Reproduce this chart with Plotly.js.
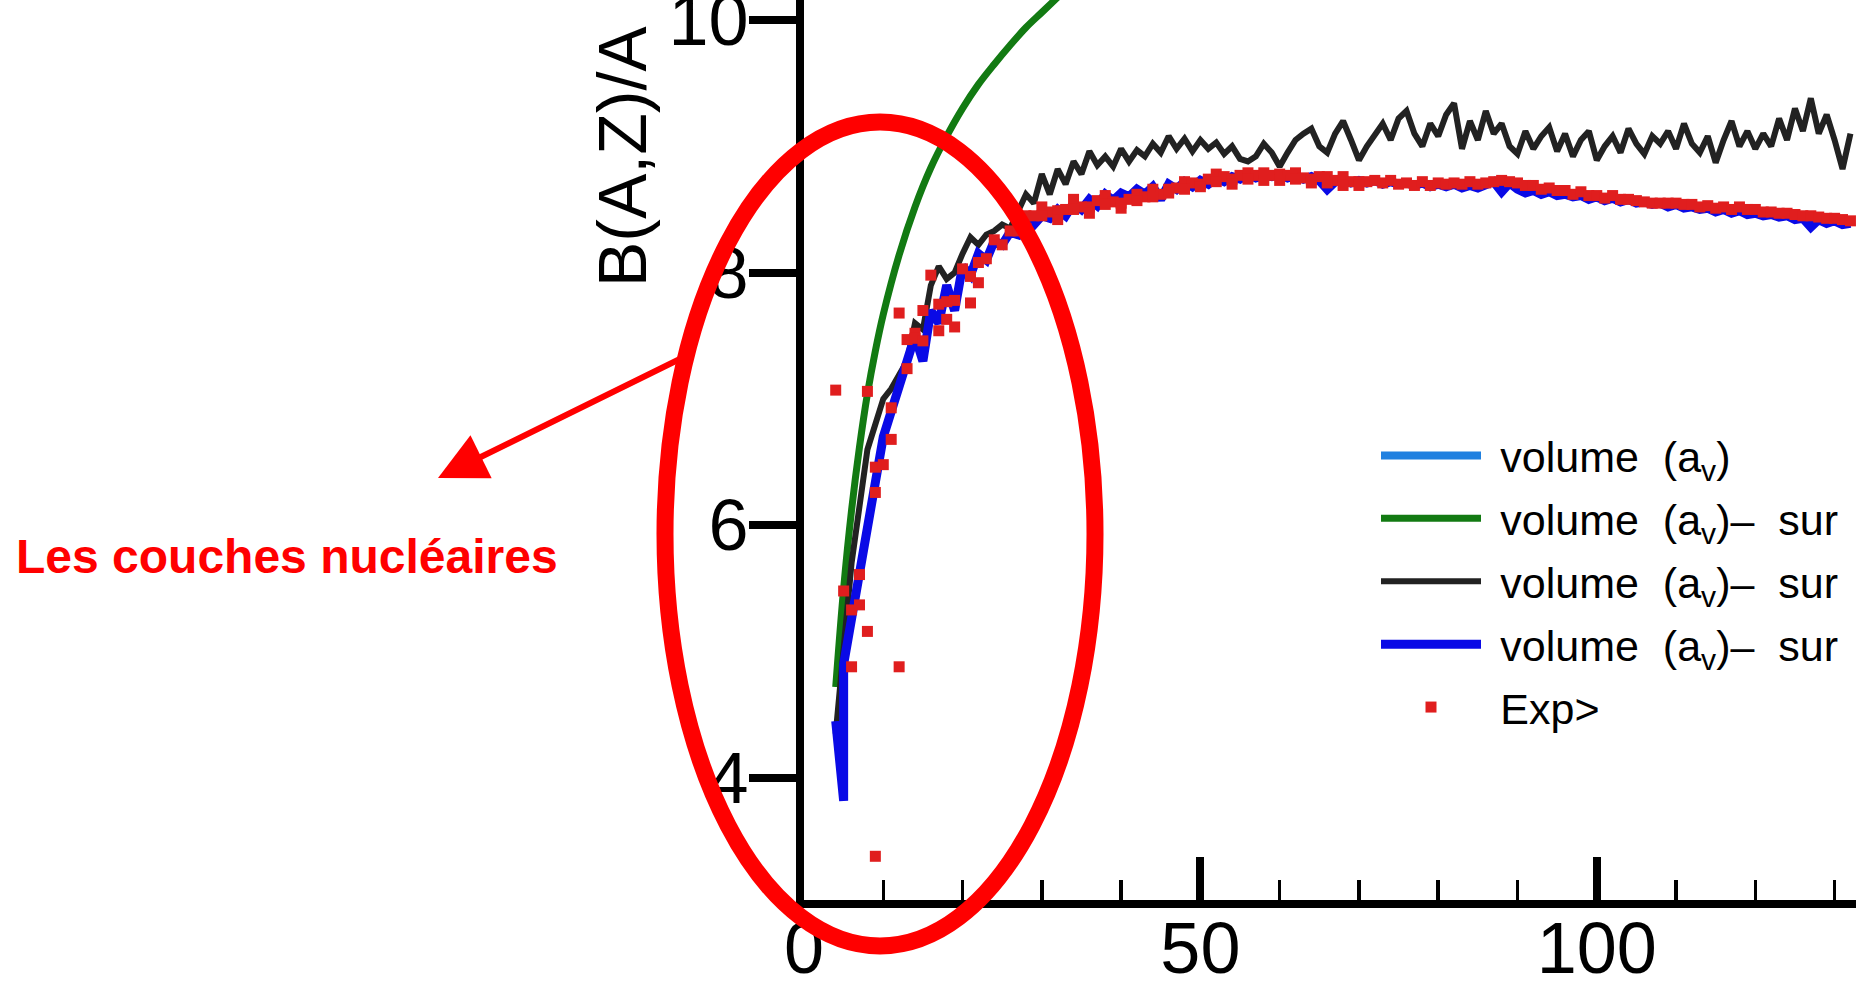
<!DOCTYPE html>
<html>
<head>
<meta charset="utf-8">
<script src="https://cdn.plot.ly/plotly-3.0.1.min.js"></script>
<style>
  html, body { margin: 0; padding: 0; background: #ffffff; overflow: hidden; }
  #chart { width: 1856px; height: 987px; }
</style>
</head>
<body>
<div id="chart"></div>
<script>
// ---- Data ----
const seriesNames = [
  '\u2004volume  (a<sub>v</sub>)',
  '\u2004volume  (a<sub>v</sub>)–  sur',
  '\u2004volume  (a<sub>v</sub>)–  sur',
  '\u2004volume  (a<sub>v</sub>)–  sur',
  '\u2004Exp&gt;'
];

// volume term only (constant, above the visible range)
const volA = [0, 132];
const volB = [15.56, 15.56];

// volume - surface (green)
const surfA = [4, 5, 6, 7, 8, 9, 10, 12, 14, 16, 18, 20, 22, 24, 26, 28, 30, 32];
const surfB = [4.72, 5.50, 6.12, 6.62, 7.04, 7.38, 7.67, 8.14, 8.52, 8.83, 9.08, 9.30, 9.49, 9.65, 9.80, 9.94, 10.06, 10.18];

// volume - surface - coulomb (black)
const coulA = [4, 5, 6, 7, 8, 9, 10, 11, 12, 13, 14, 15, 16, 17, 18, 19, 20, 21, 22, 23, 24, 25, 26, 27, 28, 29, 30,
  31, 32, 33, 34, 35, 36, 37, 38, 39, 40, 41, 42, 43, 44, 45, 46, 47, 48, 49, 50,
  51, 52, 53, 54, 55, 56, 57, 58, 59, 60, 61, 62, 63, 64, 65, 66, 67, 68, 69, 70,
  71, 72, 73, 74, 75, 76, 77, 78, 79, 80, 81, 82, 83, 84, 85, 86, 87, 88, 89, 90,
  91, 92, 93, 94, 95, 96, 97, 98, 99, 100, 101, 102, 103, 104, 105, 106, 107, 108, 109, 110,
  111, 112, 113, 114, 115, 116, 117, 118, 119, 120, 121, 122, 123, 124, 125, 126, 127, 128, 129, 130, 131, 132];
const coulB = [4.35, 5.05, 5.70, 6.15, 6.60, 6.80, 7.00, 7.08, 7.20, 7.30, 7.60, 7.55, 7.90, 8.05, 7.95, 8.00, 8.15, 8.28, 8.22, 8.30, 8.33, 8.38, 8.35, 8.48, 8.62, 8.55, 8.78,
  8.62, 8.82, 8.70, 8.88, 8.78, 8.96, 8.85, 8.92, 8.84, 8.98, 8.88, 8.97, 8.92, 9.02, 8.95, 9.08, 8.98, 9.06, 8.96, 9.05,
  8.98, 9.03, 8.94, 9.00, 8.90, 8.88, 8.92, 9.02, 8.95, 8.84, 8.95, 9.05, 9.10, 9.14, 9.00, 8.95, 9.10, 9.20, 9.05, 8.89,
  9.00, 9.10, 9.18, 9.05, 9.22, 9.28, 9.10, 9.00, 9.18, 9.08, 9.25, 9.34, 8.98, 9.20, 9.05, 9.28, 9.10, 9.18, 9.00, 8.94,
  9.12, 8.98, 9.08, 9.15, 8.96, 9.10, 8.92, 9.05, 9.12, 8.89, 9.00, 9.08, 8.95, 9.14, 9.02, 8.94, 9.08, 9.02, 9.12, 8.98,
  9.18, 9.02, 8.95, 9.08, 8.87, 9.05, 9.20, 9.00, 9.12, 8.98, 9.10, 9.00, 9.22, 9.05, 9.30, 9.12, 9.38, 9.10, 9.25, 9.05, 8.82, 9.10];

// volume - surface - coulomb - asymmetry (blue)
const asymA = [4, 5, 5, 6, 7, 8, 9, 10, 11, 12, 13, 14, 15, 16, 17, 18, 19, 20, 21, 22, 23, 24, 25, 26, 27, 28, 29, 30,
  31, 32, 33, 34, 35, 36, 37, 38, 39, 40, 41, 42, 43, 44, 45, 46, 47, 48, 49, 50,
  51, 52, 53, 54, 55, 56, 57, 58, 59, 60, 61, 62, 63, 64, 65, 66, 67, 68, 69, 70,
  71, 72, 73, 74, 75, 76, 77, 78, 79, 80, 81, 82, 83, 84, 85, 86, 87, 88, 89, 90,
  91, 92, 93, 94, 95, 96, 97, 98, 99, 100, 101, 102, 103, 104, 105, 106, 107, 108, 109, 110,
  111, 112, 113, 114, 115, 116, 117, 118, 119, 120, 121, 122, 123, 124, 125, 126, 127, 128, 129, 130, 131, 132];
const asymB = [4.45, 3.82, 4.90, 5.25, 5.60, 6.05, 6.40, 6.70, 6.90, 7.10, 7.35, 7.50, 7.30, 7.70, 7.60, 7.90, 7.70, 8.05, 7.98, 8.15, 8.10, 8.25, 8.22, 8.32, 8.30, 8.42, 8.38, 8.45,
  8.43, 8.50, 8.45, 8.55, 8.50, 8.58, 8.53, 8.62, 8.57, 8.63, 8.60, 8.66, 8.62, 8.68, 8.58, 8.70, 8.66, 8.72, 8.68, 8.73,
  8.70, 8.75, 8.72, 8.76, 8.74, 8.78, 8.75, 8.77, 8.76, 8.78, 8.75, 8.77, 8.74, 8.76, 8.73, 8.66, 8.72, 8.74, 8.71, 8.73,
  8.71, 8.73, 8.70, 8.72, 8.70, 8.71, 8.69, 8.71, 8.68, 8.70, 8.68, 8.70, 8.67, 8.69, 8.67, 8.70, 8.72, 8.64, 8.71, 8.66,
  8.63, 8.65, 8.62, 8.64, 8.61, 8.62, 8.60, 8.61, 8.58, 8.60, 8.57, 8.59, 8.56, 8.58, 8.55, 8.56, 8.54, 8.55, 8.52, 8.54,
  8.51, 8.52, 8.50, 8.51, 8.48, 8.50, 8.47, 8.49, 8.46, 8.47, 8.45, 8.46, 8.44, 8.45, 8.42, 8.43, 8.36, 8.42, 8.39, 8.41, 8.38, 8.39];

// experimental values (red squares)
const expA = [4, 5, 6, 6, 7, 7, 8, 8, 9, 9, 9, 10, 11, 11, 12, 12, 13, 13, 14, 14, 15, 15, 16, 17, 17, 18, 18, 19, 19, 20,
  21, 21, 22, 22, 23, 24, 25, 26, 27, 28, 29, 30,
  31, 32, 33, 34, 35, 36, 37, 38, 39, 40, 41, 42, 43, 44, 45, 46, 47, 48, 49, 50,
  51, 52, 53, 54, 55, 56, 57, 58, 59, 60, 61, 62, 63, 64, 65, 66, 67, 68, 69, 70,
  71, 72, 73, 74, 75, 76, 77, 78, 79, 80, 81, 82, 83, 84, 85, 86, 87, 88, 89, 90,
  91, 92, 93, 94, 95, 96, 97, 98, 99, 100, 101, 102, 103, 104, 105, 106, 107, 108, 109, 110,
  111, 112, 113, 114, 115, 116, 117, 118, 119, 120, 121, 122, 123, 124, 125, 126, 127, 128, 129, 130, 131, 132,
  28, 30, 32, 34, 36, 38, 40, 42, 44, 46, 48, 50, 52, 54, 56, 58, 60, 62, 64, 66, 68, 70];
const expB = [7.07, 5.48, 5.33, 4.88, 5.61, 5.37, 7.06, 5.16, 6.46, 6.26, 3.38, 6.48, 6.93, 6.68, 7.68, 4.88, 7.47, 7.24, 7.52, 7.48, 7.70, 7.46, 7.98, 7.75, 7.54, 7.77, 7.63, 7.78, 7.57, 8.03,
  7.97, 7.76, 8.08, 7.92, 8.11, 8.26, 8.22, 8.33, 8.33, 8.45, 8.45, 8.52,
  8.48, 8.49, 8.50, 8.58, 8.52, 8.52, 8.57, 8.61, 8.56, 8.55, 8.58, 8.62, 8.60, 8.66, 8.62, 8.66, 8.67, 8.72, 8.71, 8.70,
  8.74, 8.78, 8.76, 8.74, 8.77, 8.79, 8.77, 8.79, 8.77, 8.78, 8.77, 8.79, 8.75, 8.74, 8.76, 8.76, 8.73, 8.76, 8.72, 8.72,
  8.72, 8.73, 8.71, 8.73, 8.70, 8.71, 8.69, 8.72, 8.69, 8.71, 8.70, 8.71, 8.70, 8.72, 8.70, 8.71, 8.72, 8.73, 8.72, 8.71,
  8.69, 8.69, 8.66, 8.67, 8.65, 8.65, 8.62, 8.64, 8.61, 8.61, 8.59, 8.61, 8.58, 8.58, 8.57, 8.56, 8.55, 8.55, 8.55, 8.55,
  8.54, 8.54, 8.52, 8.53, 8.51, 8.52, 8.50, 8.52, 8.50, 8.50, 8.48, 8.48, 8.47, 8.47, 8.46, 8.45, 8.45, 8.44, 8.43, 8.43, 8.42, 8.41,
  8.35, 8.45, 8.42, 8.50, 8.47, 8.54, 8.51, 8.57, 8.60, 8.63, 8.66, 8.68, 8.72, 8.70, 8.74, 8.73, 8.73, 8.74, 8.71, 8.71, 8.69, 8.69];

const xTickVals = [0, 50, 100];
const xTickText = ['0', '50', '100'];
const yTickVals = [4, 6, 8, 10];
const yTickText = ['4', '6', '8', '10'];

// ---- Layout helpers (pixel -> paper for decorations) ----
const W = 1856, H = 987;
const M = { l: 804, r: 0, t: 0, b: 87 };
const PW = W - M.l - M.r, PH = H - M.t - M.b;
const px = v => (v - M.l) / PW;
const py = v => (M.t + PH - v) / PH;

const traces = [
  { type: 'scatter', mode: 'lines', name: seriesNames[0], legendgroup: 'g1', x: volA, y: volB,
    line: { color: '#1f80e0', width: 8 } },
  { type: 'scatter', mode: 'lines', name: seriesNames[1], legendgroup: 'g2', x: surfA, y: surfB,
    line: { color: '#127a12', width: 7, shape: 'spline' } },
  { type: 'scatter', mode: 'lines', name: seriesNames[2], legendgroup: 'g3', x: coulA, y: coulB,
    line: { color: '#222222', width: 6 } },
  { type: 'scatter', mode: 'lines', name: seriesNames[3], legendgroup: 'g4', x: asymA, y: asymB,
    line: { color: '#0a0ae6', width: 9 } },
  { type: 'scatter', mode: 'markers', name: seriesNames[4], legendgroup: 'g5', x: expA, y: expB,
    marker: { symbol: 'square', size: 11, color: '#e01e1e' } }
];

const layout = {
  width: W, height: H,
  margin: M,
  paper_bgcolor: '#ffffff', plot_bgcolor: '#ffffff',
  font: { family: 'Liberation Sans, Arial, sans-serif', color: '#000000' },
  showlegend: true,
  legend: {
    x: px(1376), y: py(421), xanchor: 'left', yanchor: 'top',
    bgcolor: 'rgba(0,0,0,0)', borderwidth: 0,
    font: { size: 43, family: 'Liberation Sans, Arial, sans-serif', color: '#000000' },
    itemwidth: 100, tracegroupgap: 4
  },
  xaxis: {
    range: [0, 132.7], showgrid: false, zeroline: false,
    showline: true, linecolor: '#000000', linewidth: 8,
    tickmode: 'array', tickvals: xTickVals, ticktext: xTickText,
    ticks: 'inside', ticklen: 43, tickwidth: 8, tickcolor: '#000000',
    minor: { dtick: 10, tick0: 0, ticks: 'inside', ticklen: 20, tickwidth: 3.5, tickcolor: '#000000' },
    ticklabeloverflow: 'allow', ticklabelstandoff: -21,
    tickfont: { size: 72, family: 'Liberation Sans, Arial, sans-serif', color: '#000000' }
  },
  yaxis: {
    range: [3.034, 10.158], showgrid: false, zeroline: false,
    showline: true, linecolor: '#000000', linewidth: 8,
    tickmode: 'array', tickvals: yTickVals, ticktext: yTickText,
    ticks: 'outside', ticklen: 47, tickwidth: 8, tickcolor: '#000000',
    ticklabeloverflow: 'allow', ticklabelstandoff: -14,
    tickfont: { size: 72, family: 'Liberation Sans, Arial, sans-serif', color: '#000000' }
  },
  shapes: [
    { type: 'circle', xref: 'paper', yref: 'paper',
      x0: px(665), x1: px(1095), y0: py(946), y1: py(122),
      line: { color: '#ff0000', width: 17 }, fillcolor: 'rgba(0,0,0,0)', layer: 'above' }
  ],
  annotations: [
    { xref: 'paper', yref: 'paper', x: px(622), y: py(157), text: 'B(A,Z)/A',
      textangle: -90, showarrow: false, xanchor: 'center', yanchor: 'middle',
      font: { size: 68, family: 'Liberation Sans, Arial, sans-serif', color: '#000000' } },
    { xref: 'paper', yref: 'paper', x: px(287), y: py(556), text: '<b>Les couches nucléaires</b>',
      showarrow: false, xanchor: 'center', yanchor: 'middle',
      font: { size: 48, family: 'Liberation Sans, Arial, sans-serif', color: '#ff0000' } },
    { xref: 'paper', yref: 'paper', x: px(438), y: py(478), text: '',
      showarrow: true, axref: 'pixel', ayref: 'pixel', ax: 254, ay: -125,
      arrowhead: 2, arrowsize: 1.6, arrowwidth: 6, arrowcolor: '#ff0000', standoff: 0 }
  ]
};

Plotly.newPlot('chart', traces, layout, { displayModeBar: false, staticPlot: true });
</script>
</body>
</html>
